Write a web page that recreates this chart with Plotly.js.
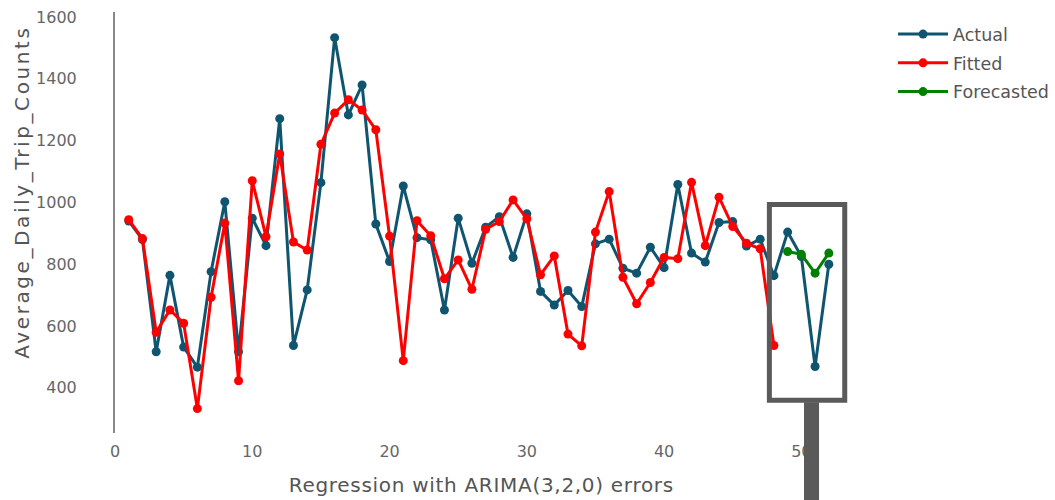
<!DOCTYPE html>
<html>
<head>
<meta charset="utf-8">
<script src="https://cdn.plot.ly/plotly-3.0.1.min.js"></script>
<style>
html,body{margin:0;padding:0;background:#fff;}
#chart{width:1055px;height:500px;}
#chart .annotation[data-index="0"] .annotation-text{letter-spacing:2.6px;}
#chart .annotation[data-index="1"] .annotation-text{letter-spacing:0.7px;}
</style>
</head>
<body>
<div id="chart"></div>
<script>
const periods = Array.from({length: 52}, (_, i) => i + 1);
const actualX = periods;
const actualY = [940, 880, 517, 764, 532, 467, 776, 1002, 517, 949,
  860, 1271, 537, 717, 1064, 1533, 1283, 1380, 930, 809,
  1053, 886, 879, 652, 949, 803, 920, 954, 822, 963,
  712, 668, 715, 663, 866, 881, 787, 771, 855, 789,
  1058, 836, 807, 935, 938, 859, 881, 763, 904, 825,
  469, 800];
const fittedX = periods.slice(0, 48);
const fittedY = [944, 883, 580, 652, 609, 333, 693, 933, 423, 1070,
  889, 1157, 872, 846, 1188, 1289, 1332, 1299, 1235, 891,
  488, 941, 892, 753, 814, 719, 913, 938, 1008, 947,
  766, 827, 574, 536, 904, 1035, 758, 672, 741, 822,
  818, 1065, 860, 1017, 922, 868, 850, 537];
const forecastX = [49, 50, 51, 52];
const forecastY = [841, 832, 771, 836];
const seriesNames = ['Actual', 'Fitted', 'Forecasted'];
const yTicks = [400, 600, 800, 1000, 1200, 1400, 1600];
const xTicks = [0, 10, 20, 30, 40, 50];
const xTitle = 'Regression with ARIMA(3,2,0) errors';
const yTitle = 'Average_Daily_Trip_Counts';

const FONT = 'DejaVu Sans, Verdana, sans-serif';
const mk = (x, y, name, color) => ({
  x: x, y: y, name: name, legendgroup: name, type: 'scatter', mode: 'lines+markers',
  line: {color: color, width: 3},
  marker: {color: color, size: 9},
  hoverinfo: 'x+y+name'
});

const data = [
  mk(actualX, actualY, seriesNames[0], '#0f5570'),
  mk(fittedX, fittedY, seriesNames[1], '#ff0000'),
  mk(forecastX, forecastY, seriesNames[2], '#008000')
];

const layout = {
  width: 1055, height: 500,
  paper_bgcolor: '#ffffff', plot_bgcolor: '#ffffff',
  margin: {l: 115, r: 185, t: 12, b: 67, pad: 0, autoexpand: false},
  font: {family: FONT, color: '#555555', size: 16},
  showlegend: true,
  legend: {
    x: 1.0305, xanchor: 'left', y: 0.99, yanchor: 'top',
    font: {family: FONT, size: 17.5, color: '#555555'},
    itemwidth: 50, tracegroupgap: 3
  },
  xaxis: {
    range: [0, 55], tickvals: xTicks, ticktext: xTicks.map(String),
    showgrid: false, zeroline: false, showline: false, ticks: '',
    ticklabelstandoff: 7, automargin: false,
    tickfont: {family: FONT, size: 16, color: '#666666'}
  },
  yaxis: {
    range: [254, 1616], tickvals: yTicks, ticktext: yTicks.map(String),
    showgrid: false, zeroline: false, showline: true, linecolor: '#888888', linewidth: 2,
    ticks: '', ticklabelstandoff: 33, automargin: false,
    tickfont: {family: FONT, size: 16, color: '#666666'}
  },
  annotations: [
    {text: yTitle, xref: 'paper', yref: 'paper',
     x: -0.123, y: 0.572, xanchor: 'center', yanchor: 'middle',
     textangle: -90, showarrow: false,
     font: {family: FONT, size: 20, color: '#555555'}},
    {text: xTitle, xref: 'paper', yref: 'paper',
     x: 0.4848, y: -0.1235, xanchor: 'center', yanchor: 'middle',
     showarrow: false,
     font: {family: FONT, size: 20, color: '#555555'}}
  ],
  shapes: [
    {type: 'rect', xref: 'x', yref: 'y', x0: 47.67, x1: 53.16, y0: 360, y1: 993,
     line: {color: '#5a5a5a', width: 5}, fillcolor: 'rgba(0,0,0,0)', layer: 'above'},
    {type: 'rect', xref: 'paper', yref: 'paper', x0: 0.9126, x1: 0.9325, y0: 0.073, y1: -0.3,
     line: {width: 0}, fillcolor: '#5a5a5a', layer: 'above'}
  ]
};

Plotly.newPlot('chart', data, layout, {displayModeBar: false, staticPlot: true});
</script>
</body>
</html>
